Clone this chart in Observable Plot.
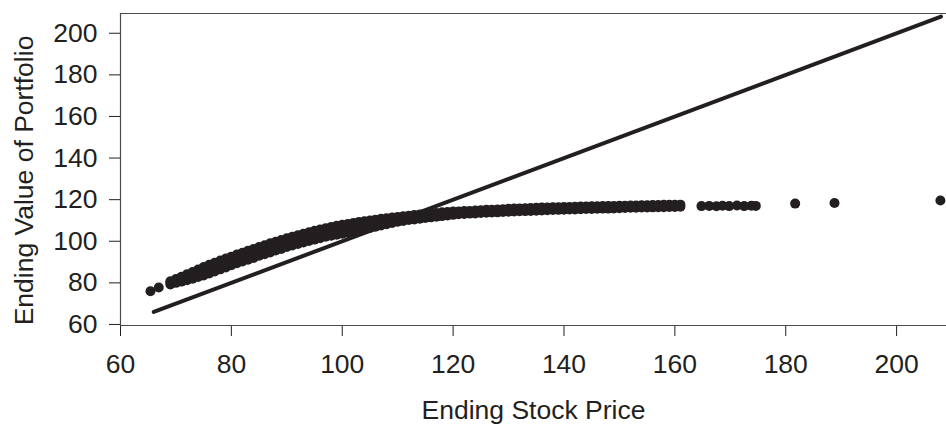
<!DOCTYPE html>
<html>
<head>
<meta charset="utf-8">
<script src="https://cdn.jsdelivr.net/npm/d3@7"></script>
<script src="https://cdn.jsdelivr.net/npm/@observablehq/plot@0.6"></script>
<style>
  html, body { margin: 0; padding: 0; background: #fff; }
  #chart { width: 946px; height: 424px; }
</style>
</head>
<body>
<div id="chart"></div>
<script>
// ---- tick labels & titles ----
const xTicks = [60, 80, 100, 120, 140, 160, 180, 200];
const yTicks = [60, 80, 100, 120, 140, 160, 180, 200];
const xTitle = "Ending Stock Price";
const yTitle = "Ending Value of Portfolio";

// ---- reference line: portfolio = all stock (value equals price) ----
const linePrice = [66, 208];
const lineValue = [66, 208];

// ---- simulated outcomes: isolated low-end points ----
const leftPrice = [65.4, 66.9];
const leftValue = [76.0, 77.8];

// ---- dense band, thick part (price, lower edge, middle, upper edge) ----
const bandPrice = [69,70,71,72,73,74,75,76,77,78,79,80,81,82,83,84,85,86,87,88,89,90,91,92,93,94,95,96,97,98,99,100,101,102,103,104,105,106,107,108,109,110,111,112,113,114,115,116,117,118,119,120];
const bandLow   = [79.2,80.0,80.6,81.3,82.0,82.8,83.5,84.5,85.5,86.5,87.4,88.5,89.4,90.3,91.1,92.0,93.0,93.8,94.6,95.6,96.3,97.2,98.0,98.7,99.4,100.1,100.8,101.5,102.2,102.7,103.1,103.6,104.1,104.6,105.2,105.8,106.4,107.0,107.6,108.2,108.8,109.4,109.8,110.2,110.5,110.8,111.2,111.5,111.8,112.1,112.4,112.7];
const bandMid   = [80.0,80.9,81.8,82.8,83.7,84.7,85.6,86.6,87.6,88.6,89.6,90.6,91.5,92.4,93.3,94.2,95.1,96.0,96.8,97.7,98.5,99.4,100.1,100.9,101.6,102.3,103.0,103.7,104.3,104.9,105.5,106.1,106.6,107.1,107.6,108.1,108.5,108.9,109.3,109.7,110.0,110.3,110.7,111.0,111.4,111.7,112.0,112.3,112.6,112.9,113.2,113.4];
const bandHigh  = [80.8,81.8,82.9,84.1,85.2,86.4,87.6,88.7,89.7,90.7,91.7,92.6,93.6,94.5,95.4,96.3,97.2,98.1,99.0,99.8,100.6,101.4,102.2,102.9,103.6,104.3,105.0,105.6,106.2,106.8,107.4,107.9,108.3,108.8,109.2,109.6,110.0,110.4,110.8,111.1,111.4,111.7,112.0,112.3,112.6,112.9,113.1,113.3,113.6,113.9,114.1,114.3];

// ---- dense band, flat part (price, lower row, upper row) ----
const flatPrice = [121,122,123,124,125,126,127,128,129,130,131,132,133,134,135,136,137,138,139,140,141,142,143,144,145,146,147,148,149,150,151,152,153,154,155,156,157,158,159,160,161];
const flatLow   = [113.0,113.1,113.3,113.4,113.6,113.7,113.8,113.9,114.1,114.2,114.3,114.4,114.5,114.6,114.7,114.8,114.9,115.0,115.1,115.2,115.3,115.3,115.4,115.5,115.5,115.6,115.7,115.7,115.8,115.9,116.0,116.1,116.1,116.2,116.2,116.3,116.4,116.4,116.5,116.5,116.6];
const flatHigh  = [114.3,114.5,114.6,114.8,114.9,115.1,115.2,115.3,115.4,115.6,115.7,115.8,115.9,116.0,116.1,116.2,116.2,116.3,116.4,116.5,116.5,116.6,116.7,116.7,116.8,116.8,116.9,117.0,117.0,117.1,117.1,117.2,117.2,117.3,117.3,117.4,117.4,117.5,117.5,117.5,117.6];

// ---- sparse high-end points ----
const sparsePrice = [164.8,166.2,167.5,168.6,169.8,171.2,172.5,173.8,174.6,181.7,188.8,207.9];
const sparseValue = [116.9,117.0,116.8,117.1,116.9,117.2,116.9,117.1,117.0,118.1,118.4,119.6];

// ---- build point table ----
const pts = [];
leftPrice.forEach((p, i) => pts.push({price: p, value: leftValue[i]}));
bandPrice.forEach((p, i) => {
  pts.push({price: p, value: bandLow[i]});
  pts.push({price: p, value: bandMid[i]});
  pts.push({price: p, value: bandHigh[i]});
});
flatPrice.forEach((p, i) => {
  pts.push({price: p, value: flatLow[i]});
  pts.push({price: p, value: flatHigh[i]});
});
sparsePrice.forEach((p, i) => pts.push({price: p, value: sparseValue[i]}));

const lineData = linePrice.map((p, i) => ({price: p, value: lineValue[i]}));

const ink = "#231f20";
const frameColor = "#4a4a4a";

const chart = Plot.plot({
  width: 946,
  height: 424,
  marginLeft: 120,
  marginRight: 0,
  marginTop: 13,
  marginBottom: 99,
  style: {
    fontFamily: "'Liberation Sans', Arial, sans-serif",
    fontSize: "26.5px",
    color: ink,
    background: "#fff",
    overflow: "visible"
  },
  x: {domain: [60, 209], ticks: xTicks, tickSize: 11, tickPadding: 18, tickFormat: d => String(d), label: null},
  y: {domain: [59.5, 209.5], ticks: yTicks, tickSize: 11, tickPadding: 12, tickFormat: d => String(d), label: null},
  marks: [
    Plot.ruleY([209.5], {stroke: frameColor, strokeWidth: 1.2}),
    Plot.ruleY([59.5], {stroke: frameColor, strokeWidth: 1.2}),
    Plot.ruleX([60], {stroke: frameColor, strokeWidth: 1.2}),
    Plot.line(lineData, {x: "price", y: "value", stroke: ink, strokeWidth: 4, strokeLinecap: "round"}),
    Plot.dot(pts, {x: "price", y: "value", r: 5, fill: ink, stroke: "none"}),
    Plot.text([xTitle], {frameAnchor: "bottom", dy: 85, textAnchor: "middle", lineAnchor: "middle", fontSize: 26.5, fill: ink}),
    Plot.text([yTitle], {frameAnchor: "left", dx: -96, dy: 11, rotate: -90, textAnchor: "middle", lineAnchor: "middle", fontSize: 26.5, fill: ink})
  ]
});

document.getElementById("chart").appendChild(chart);
</script>
</body>
</html>
